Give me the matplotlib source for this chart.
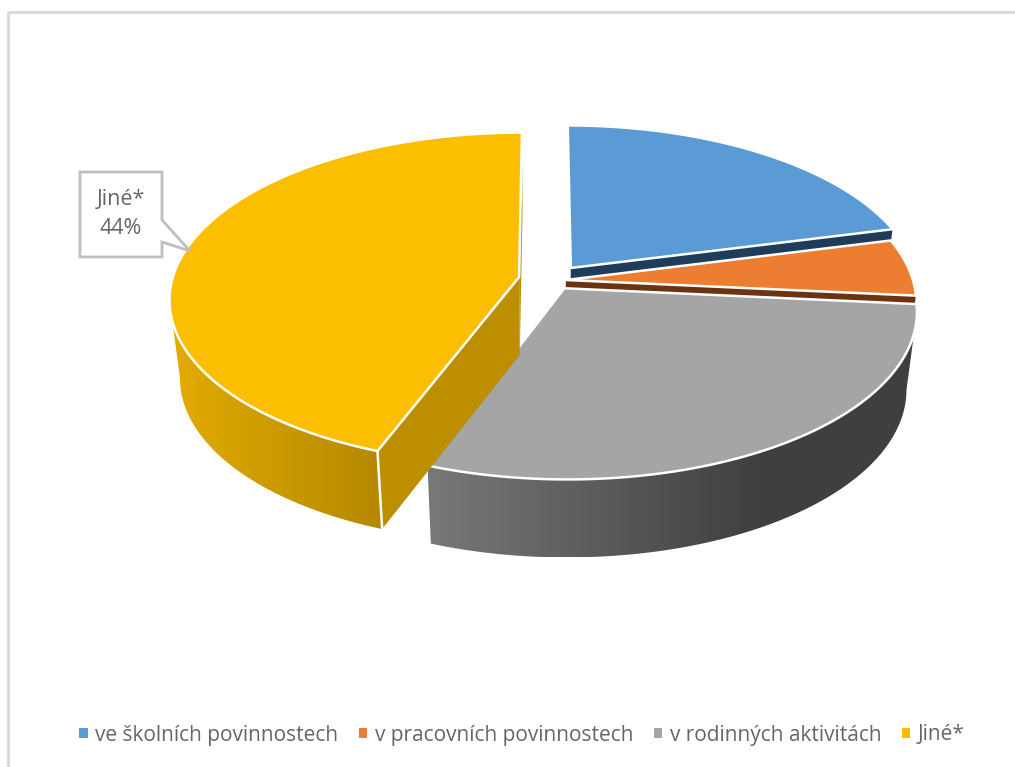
import numpy as np
import matplotlib
matplotlib.use("Agg")
import matplotlib.pyplot as plt
from matplotlib.patches import Polygon, Patch

labels = ["ve školních povinnostech", "v pracovních povinnostech", "v rodinných aktivitách", "Jiné*"]
values = [21, 5.5, 29.2, 44.3]
callout_text = "Jiné*\n44%"

top_colors = ["#5b9bd5", "#ed7d31", "#a5a5a5", "#fbbe00"]
cut_colors = ["#1f3d5a", "#6b3312", "#4a4a4a", "#bd8e00"]
# which cut faces can be seen: (start edge, end edge)
cut_shown = [(False, True), (False, True), (False, False), (True, True)]
# wall gradients, left colour / right colour / x range in pixels
wall_grad = [None, None, ("#787878", "#3f3f3f", 430, 760), ("#e2ab00", "#b68900", 175, 378)]
# how far each slice is pulled out, in disk units
offsets = [(0.078, 0.074), (0.063, 0.0), (0.058, -0.05), (-0.072, 0.018)]

CX, CY = 544, 280
RX, RY = 347, 164
PERSP = 0.13
DEPTH = 78
SHRINK = 0.972


def project(x, y, low=False):
    w = 1 + PERSP * y
    sx = CX + RX * x / w
    sy = CY - RY * y / w
    if low:
        sx = CX + (sx - CX) * SHRINK
        sy = sy + DEPTH
    return np.column_stack([sx, sy])


def rim(theta, off, low=False):
    t = np.radians(theta)
    return project(off[0] + np.sin(t), off[1] + np.cos(t), low)


def hex_rgb(c):
    return np.array(matplotlib.colors.to_rgb(c))


fig = plt.figure(figsize=(10.15, 7.67), dpi=100)
ax = fig.add_axes([0, 0, 1, 1])
ax.set_xlim(0, 1015)
ax.set_ylim(767, 0)
ax.axis("off")

# chart area border
ax.plot([8.5, 8.5, 1020], [780, 12, 12], color="#d9d9d9", lw=2, zorder=1)

edges = np.concatenate([[0], np.cumsum(values)]) / np.sum(values) * 360
z = 2
for i, col in enumerate(top_colors):
    a, b = edges[i], edges[i + 1]
    off = offsets[i]
    apex = np.array([off])
    apex_hi = project(apex[:, 0], apex[:, 1])
    apex_lo = project(apex[:, 0], apex[:, 1], True)

    # cut faces
    for th, shown in zip((a, b), cut_shown[i]):
        if not shown:
            continue
        r_hi = rim(np.array([th]), off)
        r_lo = rim(np.array([th]), off, True)
        ax.add_patch(Polygon(np.vstack([apex_hi, r_hi, r_lo, apex_lo]), fc=cut_colors[i], ec="none", zorder=z))
        z += 1

    # outer wall, from the slice edge round to the side of the disk
    if wall_grad[i] is not None:
        arc = np.linspace(a, b, 400)
        xs_arc = rim(arc, off)[:, 0]
        if i == 2:
            th = arc[np.argmax(xs_arc):]
        else:
            th = arc[:np.argmin(xs_arc) + 1]
        wall = np.vstack([rim(th, off), rim(th[::-1], off, True)])
        clip = Polygon(wall, fc="none", ec="none", zorder=z)
        ax.add_patch(clip)
        c0, c1, x0, x1 = wall_grad[i]
        xs = np.arange(wall[:, 0].min(), wall[:, 0].max() + 1)
        f = np.clip((xs - x0) / (x1 - x0), 0, 1)[None, :, None]
        grad = hex_rgb(c0) * (1 - f) + hex_rgb(c1) * f
        im = ax.imshow(grad, extent=(xs[0], xs[-1], wall[:, 1].max(), wall[:, 1].min()),
                       aspect="auto", zorder=z, interpolation="bilinear")
        im.set_clip_path(clip)
        z += 1
        if i == 3:
            seg = np.vstack([rim(np.array([a]), off), rim(np.array([a]), off, True)])
            ax.plot(seg[:, 0], seg[:, 1], color="white", lw=1.8, zorder=z)
            z += 1

    # top face
    th = np.linspace(a, b, 200)
    top = np.vstack([apex_hi, rim(th, off)])
    ax.add_patch(Polygon(top, fc=col, ec="white", lw=1.8, joinstyle="round", zorder=z))
    z += 1

ax.set_xlim(0, 1015)
ax.set_ylim(767, 0)

# data callout
box = [(80, 172), (162, 172), (162, 220), (190, 251), (162, 242), (162, 257), (80, 257)]
ax.add_patch(Polygon(box, fc="white", ec="#bfbfbf", lw=2, joinstyle="miter", zorder=z))
ax.text(121, 214, callout_text, ha="center", va="center", fontsize=15.5, family="Open Sans",
        color="#666666", linespacing=1.55, zorder=z + 1)

handles = [Patch(fc=c, ec="none") for c in top_colors]
fig.legend(handles, labels, ncol=4, loc="center", bbox_to_anchor=(522 / 1015, 1 - 735 / 767),
           frameon=False, prop={"family": "Open Sans", "size": 15}, labelcolor="#666666",
           handlelength=0.4, handleheight=0.4, handletextpad=0.35, columnspacing=1.0)

fig.savefig("out.png", dpi=100)
